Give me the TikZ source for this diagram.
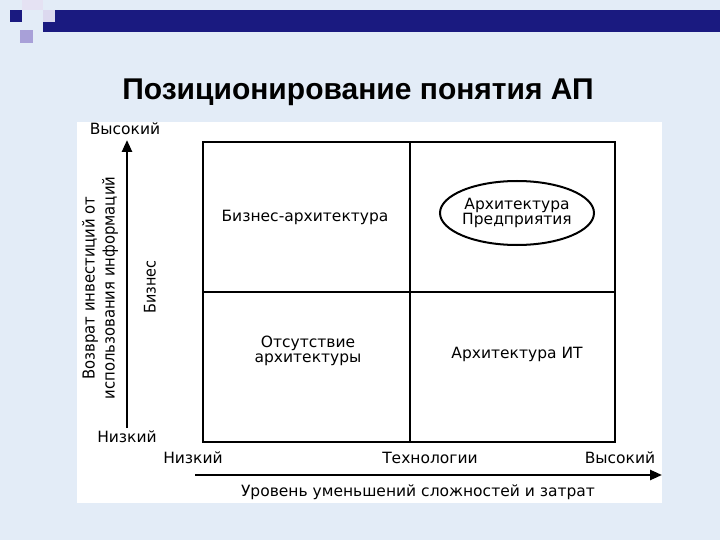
\documentclass[tikz,border=0pt]{standalone}
\usepackage{fontspec}
\setmainfont{DejaVu Sans}
\newfontfamily\titlefont{Liberation Sans}
\newfontfamily\condfont{DejaVu Sans Condensed}
\usetikzlibrary{arrows.meta}
\definecolor{bgblue}{HTML}{E3ECF7}
\definecolor{barblue}{HTML}{1A1A80}
\definecolor{sqpurple}{HTML}{A8A0D8}
\begin{document}
\begin{tikzpicture}[x=1pt,y=-1pt,
  lbl/.style={font=\fontsize{15.5}{17}\selectfont,align=center,inner sep=0},
  axis/.style={line width=2.5pt,-{Triangle[length=12pt,width=10pt]}}]
\useasboundingbox (0,0) rectangle (720,540);
\fill[bgblue] (0,0) rectangle (720,540);
% decoration
\fill[barblue] (43,10) rectangle (720,32);
\fill[barblue] (10,10) rectangle (22,22);
\fill[white!70!sqpurple] (22,0) rectangle (43,10);
\fill[sqpurple] (20,30) rectangle (33,43);
\fill[white!60!sqpurple] (43,10) rectangle (55,22);
% title
\node[font=\titlefont\bfseries\fontsize{30}{34}\selectfont] (title) at (358,92) {Позиционирование понятия АП};
% panel
\fill[white] (77,122) rectangle (662,503);
% grid
\draw[line width=1.5pt] (203,142) rectangle (615,442);
\draw[line width=1.2pt] (410,142) -- (410,442);
\draw[line width=1.2pt] (203,292) -- (615,292);
\node[lbl] (ba) at (305,217) {Бизнес-архитектура};
\node[lbl] (ap) at (517,213) {Архитектура\\[-2pt]Предприятия};
\draw[line width=2pt] (ap) ellipse (77 and 32);
\node[lbl] (no) at (308,351) {Отсутствие\\[-2pt]архитектуры};
\node[lbl] (it) at (517,354) {Архитектура ИТ};
% axes
\coordinate (vb) at (127,428);
\coordinate (vt) at (127,140);
\draw[axis] (vb) -- (vt);
\coordinate (hl) at (195,475);
\coordinate (hr) at (662,475);
\draw[axis] (hl) -- (hr);
\node[lbl] (vhigh) at (125,129) {Высокий};
\node[lbl] (vlow) at (127,437) {Низкий};
\node[lbl] (hlow) at (193,458) {Низкий};
\node[lbl] (tech) at (430,458) {Технологии};
\node[lbl] (hhigh) at (620,458) {Высокий};
\node[lbl] (ured) at (418,492) {Уровень уменьшений сложностей и затрат};
\node[lbl,rotate=90,font=\condfont\fontsize{16.5}{20}\selectfont] (roi) at (100,288) {Возврат инвестиций от\\использования информаций};
\node[lbl,rotate=90,font=\condfont\fontsize{16}{18}\selectfont] (biz) at (150,287) {Бизнес};
\end{tikzpicture}
\end{document}
